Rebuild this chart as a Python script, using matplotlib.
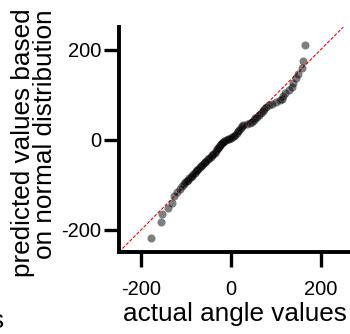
import matplotlib
matplotlib.use("Agg")
import matplotlib.pyplot as plt

plt.rcParams['font.family'] = ['Liberation Sans', 'DejaVu Sans']

actual = [-178, -156, -155, -141, -132, -128, -121, -115, -110,
          -106, -102, -99, -96, -93, -90, -87, -84, -81, -78, -76, -73, -70,
          -67, -64, -61, -58, -55, -52, -49, -46, -43, -40, -37, -34, -31,
          -29, -27, -25, -23, -21, -18, -15, -12, -8, -4, 0, 3, 6, 9, 12,
          15, 18, 21, 24, 27, 36, 42, 46, 50, 54, 58, 62, 66, 70, 74, 78,
          84, 92, 100, 108, 113, 116, 120, 128, 135, 138, 144, 150, 157,
          161, 165]
predicted = [-219, -184, -166, -153, -142, -126, -116, -110, -103,
             -99, -95, -92, -89, -86, -83, -80, -77, -74, -71, -68, -65, -62,
             -59, -56, -53, -50, -47, -44, -41, -38, -35, -32, -29, -26, -22,
             -19, -16, -13, -10, -7, -5, -3, -1, 1, 2, 4, 5, 7, 10, 14,
             18, 22, 26, 30, 33, 35, 37, 40, 43, 47, 51, 55, 59, 64, 68, 72,
             76, 80, 83, 87, 91, 97, 103, 110, 117, 125, 136, 146, 158,
             175, 211]
ticks = [-200, 0, 200]

W, H = 350, 334
fig = plt.figure(figsize=(3.5, 3.34), dpi=100)
ax = fig.add_axes([119 / W, 1 - 252 / H, (350 - 119) / W, (252 - 27) / H])

ax.scatter(actual, predicted, s=34, color='black', alpha=0.5, linewidths=0, zorder=3)
ax.axline((0, 0), slope=1, color='red', lw=0.8, linestyle=(0, (3, 1.5)), zorder=2)

ax.set_xlim(-250, 265)
ax.set_ylim(-250, 250)
ax.set_xticks(ticks)
ax.set_yticks(ticks)
ax.set_xticklabels([str(t) for t in ticks])
ax.set_yticklabels([str(t) for t in ticks])

for s in ['top', 'right']:
    ax.spines[s].set_visible(False)
for s in ['left', 'bottom']:
    ax.spines[s].set_linewidth(2.8)
ax.tick_params(axis='both', direction='out', length=11, width=2.4, labelsize=14.5, color='black')
ax.tick_params(axis='x', pad=9)
ax.tick_params(axis='y', pad=2)

ax.set_xlabel('actual angle values', fontsize=18.8, labelpad=2)

fig.text(23.5 / W, 1 - 143 / H, 'predicted values based', rotation=90,
         ha='center', va='center', fontsize=18.8)
fig.text(45 / W, 1 - 134.5 / H, 'on normal distribution', rotation=90,
         ha='center', va='center', fontsize=18.8)
fig.text(3 / W, 1 - 328 / H, 's', ha='right', va='baseline', fontsize=18.8)

fig.savefig('out.png', dpi=100)
